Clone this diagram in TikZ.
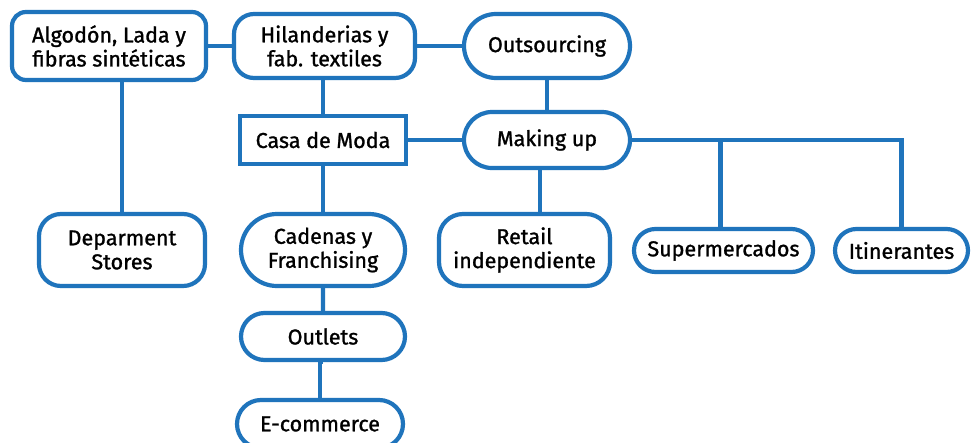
\documentclass[tikz,border=0pt]{standalone}
\usepackage{fontspec}
\setmainfont{Fira Sans}[FakeBold=1.2]
\usetikzlibrary{shapes.misc}
\definecolor{lineblue}{HTML}{1F74BC}

\tikzset{
  box/.style={draw=lineblue, line width=4.2pt, fill=white, align=center,
    inner sep=0pt, font=\fontsize{21.5}{24}\selectfont},
  sqbox/.style={box, rectangle},
  rndbox/.style={box, rectangle, rounded corners=#1},
  pill/.style={box, rounded rectangle},
  link/.style={draw=lineblue, line width=4.2pt}
}

\begin{document}
\begin{tikzpicture}[x=1pt, y=-1pt]
\clip (0,0) rectangle (971,442);
\fill[white] (0,0) rectangle (971,442);

% top row
\node[rndbox=14pt, minimum width=194pt, minimum height=68pt] (alg) at (109,46)
  {Algodón, Lada y\\fibras sintéticas};
\node[rndbox=20pt, minimum width=181pt, minimum height=64pt] (hil) at (324.5,46)
  {Hilanderias y\\fab. textiles};
\node[pill, minimum width=166pt, minimum height=64pt] (out) at (547,46) {Outsourcing};

% middle row
\node[sqbox, minimum width=166pt, minimum height=48pt] (casa) at (323,140) {Casa de Moda};
\node[pill, minimum width=166pt, minimum height=56pt] (mak) at (547,140) {Making up};

% bottom row
\node[rndbox=22pt, minimum width=166pt, minimum height=72pt] (dep) at (122,250)
  {Deparment\\Stores};
\node[pill, minimum width=164pt, minimum height=72pt] (cad) at (323,250)
  {Cadenas y\\Franchising};
\node[rndbox=24pt, minimum width=171pt, minimum height=72pt] (ret) at (524.5,250)
  {Retail\\independiente};
\node[pill, minimum width=179pt, minimum height=43pt] (sup) at (723.5,250.5) {Supermercados};
\node[pill, minimum width=133pt, minimum height=43pt] (iti) at (901.5,250.5) {Itinerantes};

% chain below
\node[pill, minimum width=164pt, minimum height=47pt] (outl) at (323,336.5) {Outlets};
\node[pill, minimum width=166pt, minimum height=48pt] (ecom) at (320,424) {E-commerce};

% connectors
\path[link] (alg) -- (hil);
\path[link] (hil) -- (out);
\path[link] (casa.north) -- (casa.north |- hil.south);
\path[link] (casa) -- (mak);
\path[link] (out.south) -- (out.south |- mak.north);
\path[link] (ret.north -| 540,0) -- (540,170);
\path[link] (mak.east) -| (iti.north);
\path[link] (sup.north -| 720.5,0) -- (720.5,140);
\path[link] (dep.north) -- (dep.north |- alg.south);
\path[link] (casa) -- (cad);
\path[link] (cad) -- (outl);
\path[link] (outl.south) -- (outl.south -| ecom.north) -- (ecom.north);
\end{tikzpicture}
\end{document}
